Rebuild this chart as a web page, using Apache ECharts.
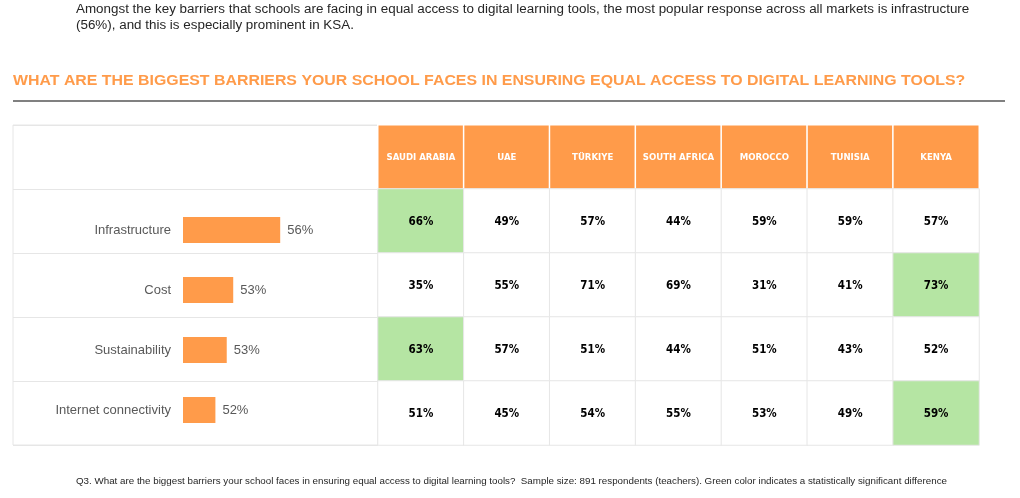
<!DOCTYPE html>
<html><head><meta charset="utf-8">
<script src="https://cdn.jsdelivr.net/npm/echarts@6/dist/echarts.min.js"></script>
<style>html,body{margin:0;padding:0;background:#fff}#c{width:1020px;height:498px}</style>
</head><body><div id="c"></div>
<script>
const barriers = ['Infrastructure', 'Cost', 'Sustainability', 'Internet connectivity'];
const totals = [56.0, 53.1, 52.7, 52.0];
const countries = ['SAUDI ARABIA', 'UAE', 'TÜRKIYE', 'SOUTH AFRICA', 'MOROCCO', 'TUNISIA', 'KENYA'];
const infrastructure = [66, 49, 57, 44, 59, 59, 57];
const cost = [35, 55, 71, 69, 31, 41, 73];
const sustainability = [63, 57, 51, 44, 51, 43, 52];
const internet = [51, 45, 54, 55, 53, 49, 59];
const significant = [[0, 0], [1, 6], [2, 0], [3, 6]]; // [row, country]

const rows = [infrastructure, cost, sustainability, internet];
const ORANGE = '#FF9B4A', GREEN = '#B5E5A3', GRID = '#E6E6E6';
const CELLFONT = 'DejaVu Sans Condensed, Liberation Sans, Arial, sans-serif';
const isSig = (r, c) => significant.some(s => s[0] === r && s[1] === c);

const cells = [];
countries.forEach((c, i) => {
  cells.push({ value: [i, 0, 0], itemStyle: { color: ORANGE, borderColor: '#fff', borderWidth: 1.5 },
    label: { color: '#fff', fontSize: 9.5, offset: [0, 1] } });
});
rows.forEach((vals, r) => {
  vals.forEach((v, i) => {
    cells.push({ value: [i, r + 1, v], itemStyle: { color: isSig(r, i) ? GREEN : '#fff', borderColor: GRID, borderWidth: 1 },
      label: { color: '#000', fontSize: 11.5, offset: [0, 1] } });
  });
});

const chart = echarts.init(document.getElementById('c'), null, { renderer: 'canvas' });
chart.setOption({
  animation: false,
  backgroundColor: '#fff',
  textStyle: { fontFamily: 'Liberation Sans, Arial, sans-serif' },
  graphic: [
    { type: 'text', x: 76, y: 2, scaleX: 1.117, style: { text: 'Amongst the key barriers that schools are facing in equal access to digital learning tools, the most popular response across all markets is infrastructure\n(56%), and this is especially prominent in KSA.', fontSize: 12, lineHeight: 16, fill: '#262626', fontFamily: 'Liberation Sans, Arial, sans-serif' } },
    { type: 'text', x: 13, y: 74, scaleX: 1.135, style: { text: 'WHAT ARE THE BIGGEST BARRIERS YOUR SCHOOL FACES IN ENSURING EQUAL ACCESS TO DIGITAL LEARNING TOOLS?', fontSize: 14, fontWeight: 'bold', fill: ORANGE, fontFamily: 'Liberation Sans, Arial, sans-serif' } },
    { type: 'line', shape: { x1: 13, y1: 101, x2: 1005, y2: 101 }, style: { stroke: '#808080', lineWidth: 2 } },
    { type: 'text', x: 76, y: 477, scaleX: 1.087, style: { text: 'Q3. What are the biggest barriers your school faces in ensuring equal access to digital learning tools?  Sample size: 891 respondents (teachers). Green color indicates a statistically significant difference', fontSize: 9, fill: '#262626', fontFamily: 'Liberation Sans, Arial, sans-serif' } }
  ],
  grid: [
    { left: 183, top: 200, width: 162, height: 240, containLabel: false },
    { left: 378, top: 125, width: 601, height: 320 },
    { left: 13, top: 125, width: 365, height: 320, show: true, borderColor: GRID, borderWidth: 1, backgroundColor: 'transparent', z: 0 }
  ],
  xAxis: [
    { gridIndex: 0, type: 'value', min: 50, max: 60, show: false },
    { gridIndex: 1, type: 'category', data: countries, show: false },
    { gridIndex: 2, type: 'value', min: 0, max: 1, show: false }
  ],
  yAxis: [
    { gridIndex: 0, type: 'category', data: barriers, inverse: true,
      axisLine: { show: false }, axisTick: { show: false }, splitLine: { show: false },
      axisLabel: { margin: 12, fontSize: 13, color: '#595959', fontFamily: 'Liberation Sans, Arial, sans-serif' } },
    { gridIndex: 1, type: 'category', data: ['header'].concat(barriers), inverse: true, show: false },
    { gridIndex: 2, type: 'category', data: ['header'].concat(barriers), inverse: true,
      axisLine: { show: false }, axisTick: { show: false }, axisLabel: { show: false },
      splitLine: { show: true, lineStyle: { color: GRID, width: 1 } } }
  ],
  series: [
    { type: 'bar', xAxisIndex: 0, yAxisIndex: 0, data: totals, barWidth: 26, itemStyle: { color: ORANGE },
      label: { show: true, position: 'right', distance: 7, fontSize: 13, color: '#595959', fontFamily: 'Liberation Sans, Arial, sans-serif',
        formatter: p => Math.round(p.value) + '%' },
      emphasis: { disabled: true }, silent: true },
    { type: 'heatmap', xAxisIndex: 1, yAxisIndex: 1, data: cells,
      label: { show: true, fontFamily: CELLFONT, fontWeight: 'bold',
        formatter: p => p.value[1] === 0 ? countries[p.value[0]] : p.value[2] + '%' },
      emphasis: { disabled: true }, silent: true }
  ]
});
</script></body></html>
